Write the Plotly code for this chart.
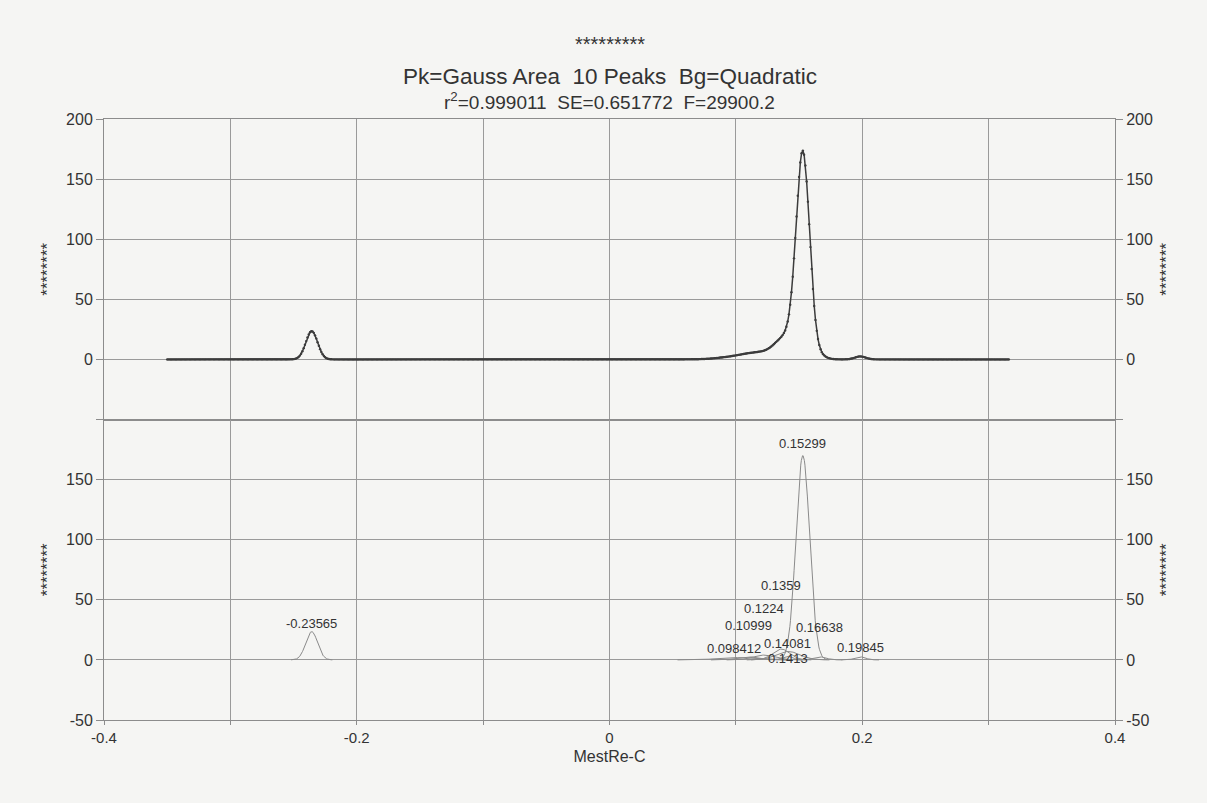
import numpy as np
import plotly.graph_objects as go
from plotly.subplots import make_subplots

# ---- data ----
peak_labels = ["-0.23565", "0.098412", "0.10999", "0.1224", "0.1359",
               "0.14081", "0.1413", "0.15299", "0.16638", "0.19845"]
peak_centers = [-0.23565, 0.098412, 0.10999, 0.1224, 0.1359,
                0.14081, 0.1413, 0.15299, 0.16638, 0.19845]
peak_heights = [23.5, 2, 2.5, 4, 9, 3, 7, 170, 2.5, 2.5]
peak_fwhm = [0.011, 0.03, 0.02, 0.02, 0.016, 0.01, 0.022, 0.0127, 0.012, 0.01]
label_heights = [30, 9.7, 28.6, 42.5, 62, 13.3, 0.8, 180, 26.7, 10]
bg_coeffs = [0.0, 0.0, 0.0]          # quadratic background a + b x + c x^2
spectrum_range = [-0.35, 0.317]
x_tick_vals = [-0.4, -0.3, -0.2, -0.1, 0.0, 0.1, 0.2, 0.3, 0.4]
x_tick_text = ["-0.4", " ", "-0.2", " ", "0", " ", "0.2", " ", "0.4"]
y_tick_vals = [-50, 0, 50, 100, 150, 200]
y_top_text = [" ", "0", "50", "100", "150", "200"]
y_bot_text = ["-50", "0", "50", "100", "150", " "]

title_1 = "*********"
title_2 = "Pk=Gauss Area\u00a0\u00a010 Peaks\u00a0\u00a0Bg=Quadratic"
title_3 = "r<sup>2</sup>=0.999011\u00a0\u00a0SE=0.651772\u00a0\u00a0F=29900.2"
x_title = "MestRe-C"
y_title = "********"

# ---- figure ----
W, H = 1207, 803
L, R, T, B = 104, 92, 119, 83
FONT = "Liberation Sans, Arial, sans-serif"
TXT = "#333333"
GRID = "#9a9a9a"
BG = "#f5f5f3"


def gauss(x, c, h, fw):
    s = fw / 2.3548
    return h * np.exp(-0.5 * ((x - c) / s) ** 2)


fig = make_subplots(rows=2, cols=1, shared_xaxes=True, vertical_spacing=0)

xs = np.arange(spectrum_range[0], spectrum_range[1], 0.001)
ys = bg_coeffs[0] + bg_coeffs[1] * xs + bg_coeffs[2] * xs ** 2
for c, h, fw in zip(peak_centers, peak_heights, peak_fwhm):
    ys = ys + gauss(xs, c, h, fw)

fig.add_trace(go.Scatter(x=xs, y=ys, mode="lines+markers",
                         line=dict(color="#3c3c3c", width=1.5),
                         marker=dict(color="#3c3c3c", size=2.4),
                         showlegend=False, hoverinfo="skip"), row=1, col=1)

for c, h, fw in zip(peak_centers, peak_heights, peak_fwhm):
    s = fw / 2.3548
    xc = np.linspace(c - 3.5 * s, c + 3.5 * s, 80)
    fig.add_trace(go.Scatter(x=xc, y=gauss(xc, c, h, fw), mode="lines",
                             line=dict(color="#8a8a8a", width=1),
                             showlegend=False, hoverinfo="skip"), row=2, col=1)

# invisible traces for right-hand axes
fig.add_trace(go.Scatter(x=[-0.4, 0.4], y=[0, 0], mode="lines", opacity=0,
                         showlegend=False, hoverinfo="skip", xaxis="x", yaxis="y3"))
fig.add_trace(go.Scatter(x=[-0.4, 0.4], y=[0, 0], mode="lines", opacity=0,
                         showlegend=False, hoverinfo="skip", xaxis="x2", yaxis="y4"))

for lbl, c, yl in zip(peak_labels, peak_centers, label_heights):
    fig.add_annotation(x=c, y=yl, xref="x2", yref="y2", text=lbl, showarrow=False,
                       font=dict(family=FONT, size=13, color=TXT),
                       xanchor="center", yanchor="middle")

plot_h = H - T - B


def py(p):
    return (H - B - p) / plot_h


fig.add_annotation(x=0.5, y=py(44), xref="paper", yref="paper", text=title_1,
                   showarrow=False, font=dict(family=FONT, size=20, color=TXT),
                   xanchor="center", yanchor="middle")
fig.add_annotation(x=0.5, y=py(76), xref="paper", yref="paper", text=title_2,
                   showarrow=False, font=dict(family=FONT, size=22.5, color=TXT),
                   xanchor="center", yanchor="middle")
fig.add_annotation(x=0.5, y=py(101), xref="paper", yref="paper", text=title_3,
                   showarrow=False, font=dict(family=FONT, size=19, color=TXT),
                   xanchor="center", yanchor="middle")

axis_common = dict(showline=True, linecolor="#8c8c8c", linewidth=1, mirror=True,
                   showgrid=True, gridcolor=GRID, gridwidth=1, zeroline=False)

fig.update_xaxes(range=[-0.4, 0.4], tickmode="array", tickvals=x_tick_vals,
                 ticktext=x_tick_text, **axis_common)
fig.update_xaxes(showticklabels=False, ticks="", row=1, col=1)
fig.update_xaxes(ticks="outside", ticklen=4, tickcolor="#8c8c8c",
                 tickfont=dict(family=FONT, size=15, color=TXT),
                 title=dict(text=x_title, font=dict(family=FONT, size=16, color=TXT),
                            standoff=5),
                 row=2, col=1)

ycommon = dict(range=[-50, 200], tickmode="array", tickvals=y_tick_vals,
               ticks="outside", ticklen=7, tickcolor="#8c8c8c",
               tickfont=dict(family=FONT, size=16, color=TXT),
               title=dict(text=y_title, font=dict(family=FONT, size=17, color=TXT),
                          standoff=8))
fig.update_yaxes(ticktext=y_top_text, **ycommon, **axis_common, row=1, col=1)
fig.update_yaxes(ticktext=y_bot_text, **ycommon, **axis_common, row=2, col=1)

fig.update_layout(
    yaxis3=dict(overlaying="y", side="right", anchor="x", showgrid=False,
                zeroline=False, showline=False, ticktext=y_top_text, **ycommon),
    yaxis4=dict(overlaying="y2", side="right", anchor="x2", showgrid=False,
                zeroline=False, showline=False, ticktext=y_bot_text, **ycommon),
)

fig.update_layout(width=W, height=H, margin=dict(l=L, r=R, t=T, b=B),
                  paper_bgcolor=BG, plot_bgcolor=BG, showlegend=False,
                  font=dict(family=FONT, color=TXT))

fig.write_html("out.html")
